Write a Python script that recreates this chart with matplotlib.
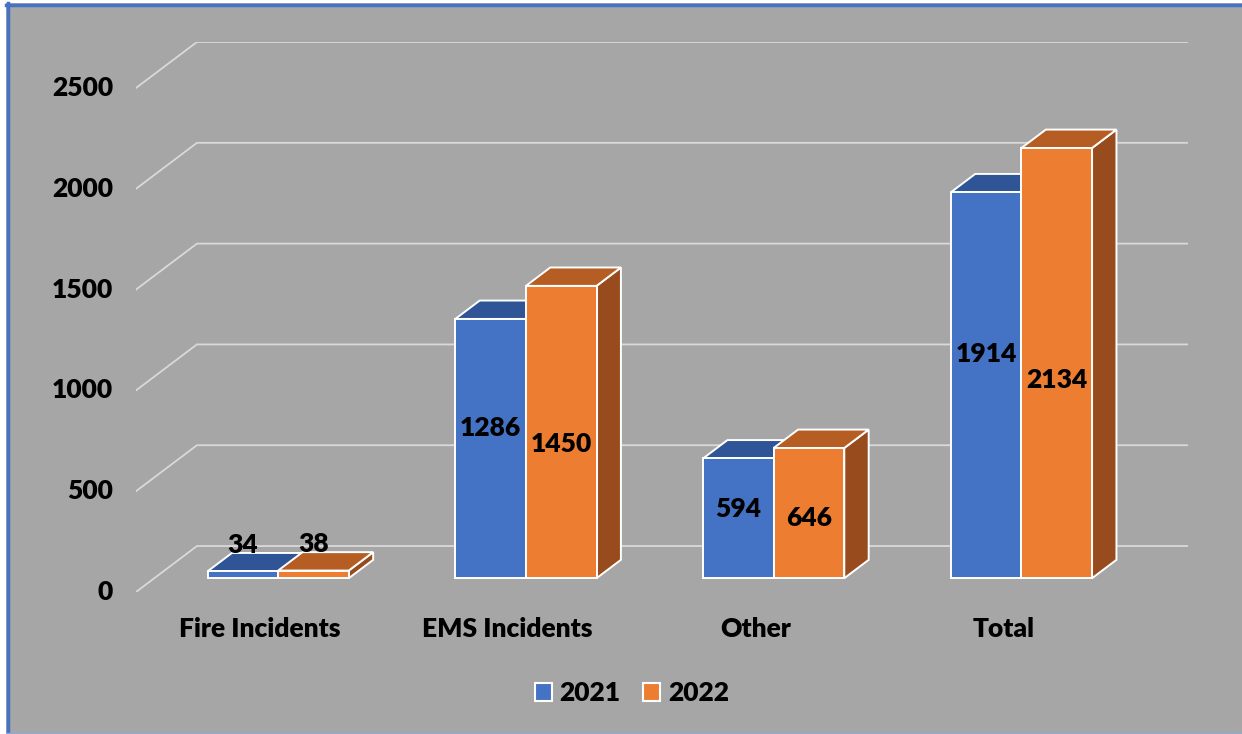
import matplotlib
matplotlib.use("Agg")
import matplotlib.pyplot as plt
from matplotlib.patches import Polygon, Rectangle, Patch
from matplotlib.lines import Line2D

# chart data
categories = ["Fire Incidents", "EMS Incidents", "Other", "Total"]
years = ["2021", "2022"]
values_2021 = [34, 1286, 594, 1914]
values_2022 = [38, 1450, 646, 2134]
y_ticks = [0, 500, 1000, 1500, 2000, 2500]

# colours
BG = "#A6A6A6"
GRID = "#D9D9D9"
BORDER = "#4472C4"
BLUE = ("#4472C4", "#2F5597", "#264478")     # front, top, side
ORANGE = ("#ED7D31", "#B55D22", "#984C1E")

W, H = 1242, 734
FONT = dict(family="Lato", weight="heavy", size=19)

# fake 3d depth (category units / value units) and bar geometry
DX, DY = 0.246, 228
Z0, Z1 = 0.3, 0.7
BAR_W = 0.285

fig = plt.figure(figsize=(W / 100, H / 100), dpi=100)
fig.patch.set_facecolor("white")
fig.add_artist(Rectangle((6 / W, 1 - 733 / H), 1 - 6 / W, 730 / H, transform=fig.transFigure,
                         facecolor=BG, edgecolor="none", zorder=0))
fig.add_artist(Line2D([8 / W, 8 / W], [1 - 733 / H, 1 - 3 / H], color=BORDER, lw=2.5))
fig.add_artist(Line2D([6 / W, 1], [1 - 4.5 / H] * 2, color=BORDER, lw=2.5))
fig.add_artist(Line2D([6 / W, 1], [1 - 733 / H] * 2, color="#8FAADC", lw=0.8))

ax = fig.add_axes([136 / W, 1 - 592 / H, (1188 - 136) / W, (592 - 42) / H])
n = len(categories)
ax.set_xlim(-0.5, n - 0.5 + DX)
ax.set_ylim(0, y_ticks[-1] + DY)
ax.axis("off")

# side wall + back wall gridlines
for t in y_ticks:
    ax.plot([-0.5, -0.5 + DX, n - 0.5 + DX], [t, t + DY, t + DY], color=GRID, lw=1.3, zorder=1)
    ax.text(-0.593, t, str(t), ha="right", va="center", clip_on=False, **FONT)


def face(pts, color, z):
    ax.add_patch(Polygon(pts, closed=True, facecolor=color, edgecolor="white",
                         lw=1.4, joinstyle="miter", zorder=z))


def bar3d(x0, v, colors, z):
    front, top, side = colors
    xa, ya = x0 + Z0 * DX, Z0 * DY
    dx, dy = (Z1 - Z0) * DX, (Z1 - Z0) * DY
    w = BAR_W
    face([(xa + w, ya), (xa + w + dx, ya + dy), (xa + w + dx, ya + v + dy), (xa + w, ya + v)], side, z)
    face([(xa, ya + v), (xa + w, ya + v), (xa + w + dx, ya + v + dy), (xa + dx, ya + v + dy)], top, z)
    face([(xa, ya), (xa + w, ya), (xa + w, ya + v), (xa, ya + v)], front, z)


def value_label(x0, v, frac):
    xc = x0 + BAR_W / 2 + Z0 * DX
    if v < 200:
        ax.text(xc, v + Z1 * DY, str(v), ha="center", va="baseline", zorder=10, **FONT)
    else:
        ax.text(xc, Z0 * DY + frac * v, str(v), ha="center", va="center", zorder=10, **FONT)


for i, cat in enumerate(categories):
    bar3d(i - BAR_W, values_2021[i], BLUE, 2 + 2 * i)
    bar3d(i, values_2022[i], ORANGE, 3 + 2 * i)
    value_label(i - BAR_W, values_2021[i], 0.58)
    value_label(i, values_2022[i], 0.46)
    ax.text(i, -183, cat, ha="center", va="center", clip_on=False, **FONT)

handles = [Patch(facecolor=BLUE[0], edgecolor="white", lw=1.5, label=years[0]),
           Patch(facecolor=ORANGE[0], edgecolor="white", lw=1.5, label=years[1])]
fig.legend(handles=handles, loc="center", bbox_to_anchor=(632 / W, 1 - 693 / H), ncol=2,
           frameon=False, handlelength=0.65, handleheight=0.65, handletextpad=0.3,
           columnspacing=0.85, prop=dict(family="Lato", weight="heavy", size=19))

fig.savefig("out.png", dpi=100, facecolor=fig.get_facecolor())
